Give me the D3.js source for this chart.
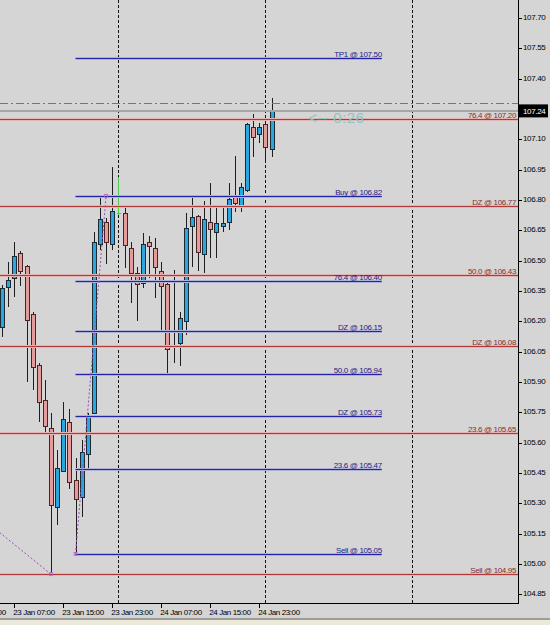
<!DOCTYPE html>
<html>
<head>
<meta charset="utf-8">
<script src="https://cdn.jsdelivr.net/npm/d3@7"></script>
<style>
body{margin:0;background:#d5d5d5}
svg{display:block}
text{font-family:"Liberation Sans",Arial,sans-serif}
</style>
</head>
<body>
<svg width="550" height="625"></svg>
<script>
// hourly candles, 23 Jan 05:00 .. 25 Jan 00:00
var openPrices  = [106.172,106.369,106.414,106.537,106.473,106.236,105.984,105.811,105.672,105.282,
                   105.460,105.702,105.415,105.331,105.544,105.747,106.582,106.691,106.582,106.735,
                   106.735,106.562,106.439,106.389,106.592,106.562,106.448,106.384,106.083,106.093,
                   106.201,106.671,106.720,106.532,106.691,106.641,106.671,106.691,106.814,106.775,
                   106.849,107.160,107.126,107.175,107.051];
var highPrices  = [106.379,106.493,106.592,106.547,106.478,106.246,105.994,105.910,105.747,105.564,
                   105.801,105.766,105.524,105.613,105.747,106.641,106.820,106.710,106.963,106.913,
                   106.775,106.592,106.468,106.636,106.621,106.612,106.493,106.389,106.453,106.246,
                   106.735,106.814,106.725,106.794,106.883,106.765,106.775,106.883,107.017,106.883,
                   107.180,107.224,107.180,107.185,107.304];
var lowPrices   = [106.122,106.271,106.320,106.374,105.900,105.860,105.702,105.638,104.950,105.193,
                   105.455,105.371,105.050,105.233,105.465,105.742,106.552,106.483,106.552,106.725,
                   106.463,106.290,106.201,106.364,106.414,106.315,106.157,105.940,105.994,105.979,
                   106.132,106.468,106.448,106.439,106.513,106.513,106.641,106.651,106.740,106.740,
                   106.839,107.012,107.081,106.982,107.012];
var closePrices = [106.364,106.404,106.523,106.448,106.206,105.974,105.801,105.682,105.292,105.475,
                   105.717,105.406,105.322,105.554,105.737,106.592,106.706,106.592,106.745,106.735,
                   106.577,106.439,106.384,106.582,106.572,106.468,106.374,106.063,106.073,106.216,
                   106.661,106.715,106.542,106.705,106.656,106.686,106.686,106.804,106.785,106.864,
                   107.175,107.111,107.160,107.061,107.240];

var timeLabels = ["22 Jan 23:00","23 Jan 07:00","23 Jan 15:00","23 Jan 23:00","24 Jan 07:00","24 Jan 15:00","24 Jan 23:00"];
var timeLabelIdx = [-6,2,10,18,26,34,42];
var daySeparators = [19,43,67];
var priceTicks = [107.70,107.55,107.40,107.10,106.95,106.80,106.65,106.50,106.35,106.20,
                  106.05,105.90,105.75,105.60,105.45,105.30,105.15,105.00,104.85];

var blueNames  = ["TP1","Buy","76.4","DZ","50.0","DZ","23.6","Sell"];
var bluePrices = [107.50,106.82,106.40,106.15,105.94,105.73,105.47,105.05];
var redNames   = ["76.4","DZ","50.0","DZ","23.6","Sell"];
var redPrices  = [107.20,106.77,106.43,106.08,105.65,104.95];
var blueFibIdx = [12,62];
var blueDiag = [[12,105.05],[17,106.82]];
var redDiag  = [[-112,107.895],[8,104.95]];
var bidPrice = 107.24, askPrice = 107.28;
var timerText = "<-- 0:26";

var plotRight = 518, plotBottom = 603;
var svg = d3.select("svg");
var fmt = d3.format(".2f");

var x = d3.scaleLinear().domain([0,44]).range([2,271.5]);
var y = d3.scaleLinear().domain([104.85,107.70]).range([594.4,17.84]);

svg.append("rect").attr("width",550).attr("height",625).attr("fill","#d5d5d5");
svg.append("clipPath").attr("id","plot")
	.append("rect").attr("width",plotRight).attr("height",plotBottom);
var plot = svg.append("g").attr("clip-path","url(#plot)");

// day separators
plot.selectAll(".sep").data(daySeparators).enter().append("line")
	.attr("x1",d=>Math.round(x(d))+0.5).attr("x2",d=>Math.round(x(d))+0.5)
	.attr("y1",0).attr("y2",plotBottom)
	.attr("stroke","#111").attr("stroke-dasharray","3,2");

// candles
var idx = d3.range(openPrices.length);
var candles = plot.selectAll(".candle").data(idx).enter().append("g");
candles.append("line")
	.attr("x1",i=>Math.round(x(i))+0.5).attr("x2",i=>Math.round(x(i))+0.5)
	.attr("y1",i=>Math.round(y(highPrices[i]))).attr("y2",i=>Math.round(y(lowPrices[i])))
	.attr("stroke",i=>openPrices[i]==closePrices[i] ? "#4ccc4c" : "#1e1e1e");
candles.filter(i=>openPrices[i]!=closePrices[i]).append("rect")
	.attr("x",i=>Math.round(x(i))-2+0.5)
	.attr("y",i=>Math.round(y(Math.max(openPrices[i],closePrices[i])))+0.5)
	.attr("width",4)
	.attr("height",i=>Math.max(1,Math.round(y(Math.min(openPrices[i],closePrices[i])))-Math.round(y(Math.max(openPrices[i],closePrices[i])))))
	.attr("fill",i=>closePrices[i]>openPrices[i] ? "#2aa7de" : "#e39b9b")
	.attr("stroke",i=>closePrices[i]>openPrices[i] ? "#1b2a33" : "#4a2222");
candles.filter(i=>openPrices[i]==closePrices[i]).append("line")
	.attr("x1",i=>Math.round(x(i))-1).attr("x2",i=>Math.round(x(i))+3)
	.attr("y1",i=>Math.round(y(openPrices[i]))+0.5).attr("y2",i=>Math.round(y(openPrices[i]))+0.5)
	.attr("stroke","#4ccc4c");

// ask / bid lines
plot.append("line").attr("x1",0).attr("x2",plotRight)
	.attr("y1",Math.round(y(askPrice))+0.5).attr("y2",Math.round(y(askPrice))+0.5)
	.attr("stroke","#3c9e3c").attr("stroke-dasharray","8,3,2,3");
plot.append("line").attr("x1",0).attr("x2",plotRight)
	.attr("y1",y(bidPrice)).attr("y2",y(bidPrice))
	.attr("stroke","#a6a6a6").attr("stroke-width",2);

// red levels (full width)
plot.selectAll(".redhalo").data(redPrices).enter().append("line")
	.attr("x1",0).attr("x2",plotRight)
	.attr("y1",d=>Math.round(y(d))+0.5).attr("y2",d=>Math.round(y(d))+0.5)
	.attr("stroke","#e2b4b4").attr("stroke-width",3);
plot.selectAll(".red").data(redPrices).enter().append("line")
	.attr("x1",0).attr("x2",plotRight)
	.attr("y1",d=>Math.round(y(d))+0.5).attr("y2",d=>Math.round(y(d))+0.5)
	.attr("stroke","#b03a3a");
plot.selectAll(".redlab").data(redPrices).enter().append("text")
	.attr("x",516).attr("y",d=>Math.round(y(d))-1.5)
	.attr("text-anchor","end").attr("font-size","8px").attr("letter-spacing","-0.35px")
	.attr("fill","#8c2c2c")
	.text((d,i)=>redNames[i]+" @ "+fmt(d));

// blue levels (from the fib anchor to the right)
plot.selectAll(".bluehalo").data(bluePrices).enter().append("line")
	.attr("x1",x(blueFibIdx[0])).attr("x2",x(blueFibIdx[1]))
	.attr("y1",d=>Math.round(y(d))+0.5).attr("y2",d=>Math.round(y(d))+0.5)
	.attr("stroke","#aeb0d8").attr("stroke-width",3);
plot.selectAll(".blue").data(bluePrices).enter().append("line")
	.attr("x1",x(blueFibIdx[0])).attr("x2",x(blueFibIdx[1]))
	.attr("y1",d=>Math.round(y(d))+0.5).attr("y2",d=>Math.round(y(d))+0.5)
	.attr("stroke","#2424a8");
plot.selectAll(".bluelab").data(bluePrices).enter().append("text")
	.attr("x",x(blueFibIdx[1])).attr("y",d=>Math.round(y(d))-1.5)
	.attr("text-anchor","end").attr("font-size","8px").attr("letter-spacing","-0.35px")
	.attr("fill","#22228a")
	.text((d,i)=>blueNames[i]+" @ "+fmt(d));

// fib diagonals
var diag = d3.line().x(d=>x(d[0])).y(d=>y(d[1]));
[redDiag,blueDiag].forEach(function(pts){
	plot.append("path").attr("d",diag(pts)).attr("fill","none")
		.attr("stroke","#9a4cc0").attr("stroke-dasharray","2,2");
	plot.append("rect").attr("x",x(pts[1][0])-1.5).attr("y",y(pts[1][1])-1.5)
		.attr("width",3).attr("height",3).attr("fill","none").attr("stroke","#c060d0").attr("stroke-width",0.8);
});
plot.append("rect").attr("x",x(blueDiag[0][0])-1.5).attr("y",y(blueDiag[0][1])-1.5)
	.attr("width",3).attr("height",3).attr("fill","none").attr("stroke","#c060d0").attr("stroke-width",0.8);

// candle timer
plot.append("text").attr("x",x(50)).attr("y",y(bidPrice)+12)
	.attr("font-size","15px").attr("letter-spacing","0.5px")
	.attr("fill","#86c8c8").text(timerText);

// axes frame
svg.append("line").attr("x1",plotRight+0.5).attr("x2",plotRight+0.5).attr("y1",0).attr("y2",plotBottom+1)
	.attr("stroke","#000");
svg.append("line").attr("x1",0).attr("x2",plotRight+1).attr("y1",plotBottom+0.5).attr("y2",plotBottom+0.5)
	.attr("stroke","#000");

// price axis
svg.selectAll(".ptick").data(priceTicks).enter().append("line")
	.attr("x1",plotRight+1).attr("x2",plotRight+4)
	.attr("y1",d=>Math.round(y(d))+0.5).attr("y2",d=>Math.round(y(d))+0.5)
	.attr("stroke","#000");
svg.selectAll(".plab").data(priceTicks).enter().append("text")
	.attr("x",plotRight+5).attr("y",d=>y(d)+2)
	.attr("font-size","8px").attr("letter-spacing","-0.35px").attr("fill","#000")
	.text(d=>fmt(d));

// current price box
svg.append("rect").attr("x",plotRight+1).attr("y",y(bidPrice)-6.5)
	.attr("width",29).attr("height",13).attr("fill","#000");
svg.append("text").attr("x",plotRight+5).attr("y",y(bidPrice)+3)
	.attr("font-size","8px").attr("letter-spacing","-0.35px").attr("fill","#fff")
	.text(fmt(bidPrice));

// time axis
svg.selectAll(".ttick").data(timeLabelIdx).enter().append("line")
	.attr("x1",d=>Math.round(x(d))+0.5).attr("x2",d=>Math.round(x(d))+0.5)
	.attr("y1",plotBottom+1).attr("y2",plotBottom+5)
	.attr("stroke","#000");
svg.selectAll(".tlab").data(timeLabelIdx).enter().append("text")
	.attr("x",d=>x(d)-1).attr("y",614.5)
	.attr("font-size","8px").attr("letter-spacing","-0.4px").attr("fill","#000")
	.text((d,i)=>timeLabels[i]);

// window bottom strip
svg.append("rect").attr("x",0).attr("y",618).attr("width",550).attr("height",2).attr("fill","#9c9c9c");
svg.append("rect").attr("x",0).attr("y",620).attr("width",550).attr("height",5).attr("fill","#ece9d8");
</script>
</body>
</html>
